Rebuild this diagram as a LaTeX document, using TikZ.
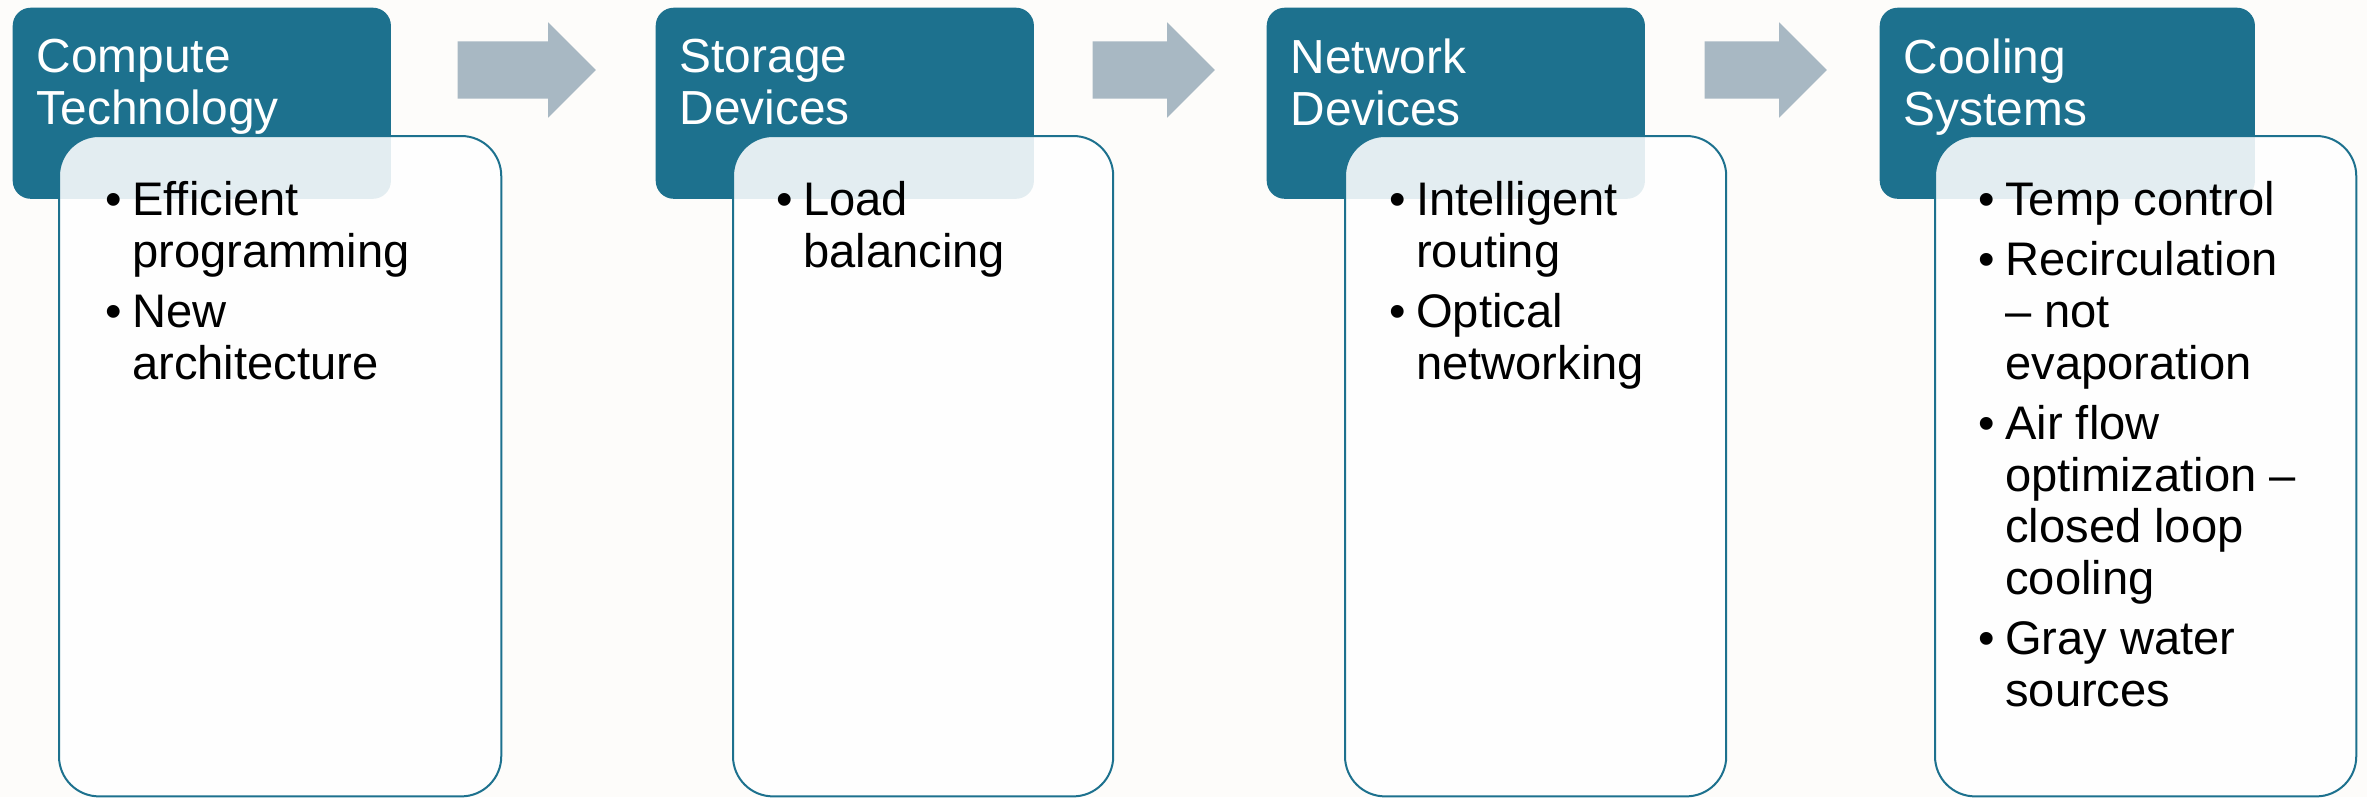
\documentclass[tikz,border=0pt]{standalone}
\usepackage{fontspec}
\setmainfont{Liberation Sans}
\usetikzlibrary{positioning, shapes.arrows}
\definecolor{hdrblue}{HTML}{1D718E}
\definecolor{flowgray}{HTML}{A8B8C3}
\definecolor{pagebg}{HTML}{FDFCFA}
\newcommand{\bulletmark}{\makebox[0.265cm][l]{\textbullet}}
\newcommand{\bulletindent}{\hspace*{0.265cm}}

\begin{document}
\begin{tikzpicture}[
    x=0.01cm, y=-0.01cm,
    every node/.style={font=\fontsize{13.4}{14.7}\selectfont},
    hdr_box/.style={
        rectangle,
        rounded corners=0.18cm,
        fill=hdrblue,
        anchor=north west,
        minimum width=3.78cm,
        minimum height=1.91cm,
        inner sep=0pt
    },
    hdr_text/.style={anchor=north west, align=left, text=white, inner sep=0pt,
        font=\fontsize{13.6}{14.8}\selectfont},
    body_box/.style={
        rectangle,
        rounded corners=0.4cm,
        draw=hdrblue,
        line width=0.02cm,
        fill=white,
        fill opacity=0.88,
        anchor=north west,
        minimum height=6.6cm,
        inner sep=0pt
    },
    body_text/.style={anchor=north west, align=left, inner sep=0pt},
    flow/.style={
        single arrow,
        fill=flowgray,
        anchor=tail,
        minimum width=0.94cm,
        single arrow head extend=0.19cm,
        single arrow tip angle=90,
        inner xsep=0pt,
        inner ysep=0.28cm
    }
]

\fill[pagebg] (0,0) rectangle (2367,797);
\useasboundingbox (0,0) rectangle (2367,797);

% headers
\node[hdr_box] (compute) at (12,7) {};
\node[hdr_box] (storage) at (655,7) {};
\node[hdr_box] (network) at (1266,7) {};
\node[hdr_box, minimum width=3.75cm] (cooling) at (1879,7) {};

% bodies
\node[body_box, minimum width=4.42cm] (computebody) at (58,135) {};
\node[body_box, minimum width=3.80cm] (storagebody) at (732,135) {};
\node[body_box, minimum width=3.81cm] (networkbody) at (1344,135) {};
\node[body_box, minimum width=4.21cm] (coolingbody) at (1934,135) {};

% header texts
\node[hdr_text] (computetxt) at (36,38) {Compute\\Technology};
\node[hdr_text] (storagetxt) at (679,38) {Storage\\Devices};
\node[hdr_text] (networktxt) at (1290,38) {Network\\Devices};
\node[hdr_text] (coolingtxt) at (1903,38) {Cooling\\Systems};

% bullet lists
\node[body_text] (computelist) at (105,181) {%
    \bulletmark Efficient\\ \bulletindent programming\\[2.4pt]
    \bulletmark New\\ \bulletindent architecture};
\node[body_text] (storagelist) at (776,181) {%
    \bulletmark Load\\ \bulletindent balancing};
\node[body_text] (networklist) at (1389,181) {%
    \bulletmark Intelligent\\ \bulletindent routing\\[2.4pt]
    \bulletmark Optical\\ \bulletindent networking};
\node[body_text] (coolinglist) at (1978,181) {%
    \bulletmark Temp control\\[2.4pt]
    \bulletmark Recirculation\\ \bulletindent -- not\\ \bulletindent evaporation\\[2.4pt]
    \bulletmark Air flow\\ \bulletindent optimization --\\ \bulletindent closed loop\\ \bulletindent cooling\\[2.4pt]
    \bulletmark Gray water\\ \bulletindent sources};

% arrows between steps
\node[flow, minimum height=1.38cm] (arrowa) at (457,70) {};
\node[flow, minimum height=1.22cm] (arrowb) at (1092,70) {};
\node[flow, minimum height=1.22cm] (arrowc) at (1704,70) {};

\end{tikzpicture}
\end{document}
